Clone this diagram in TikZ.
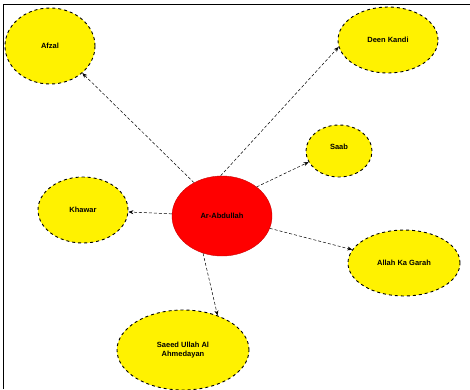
\documentclass[tikz,border=0pt]{standalone}
\usepackage{fontspec}
\setmainfont{Liberation Sans}
\usetikzlibrary{shapes.geometric,arrows.meta}
\begin{document}
\begin{tikzpicture}[x=1pt,y=-1pt,
  leaf/.style={ellipse,draw=black,dashed,line width=0.9pt,fill=yellow,
    inner sep=0pt,font=\fontsize{7.5}{8.5}\selectfont\bfseries,align=center},
  hub/.style={ellipse,draw=red!80!black,fill=red,inner sep=0pt,
    font=\fontsize{7.5}{8.5}\selectfont\bfseries},
  link/.style={densely dashed,line width=0.5pt,-{Stealth[length=5pt,width=4pt]}}]
\useasboundingbox (0,0) rectangle (470,389);
\fill[white] (0,0) rectangle (470,389);
% frame
\draw[line width=0.8pt] (3,389) -- (3,4) -- (470,4);
% nodes
\node[hub, minimum width=100pt, minimum height=80pt] (c) at (222,216) {Ar-Abdullah};
\node[leaf, minimum width=90pt, minimum height=76pt] (a) at (50,46) {Afzal};
\node[leaf, minimum width=100pt, minimum height=66pt] (d) at (388,40) {Deen Kandi};
\node[leaf, minimum width=66pt, minimum height=52pt] (s) at (339,151) {Saab\\[-1pt]{}};
\node[leaf, minimum width=90pt, minimum height=66pt] (k) at (83,210) {Khawar};
\node[leaf, minimum width=112pt, minimum height=66pt] (g) at (404,263) {Allah Ka Garah};
\node[leaf, minimum width=132pt, minimum height=80pt] (e) at (183,350) {Saeed Ullah Al\\Ahmedayan};
% connectors
\draw[link] (c.130) -- (a.-40);
\draw[link] (c.92) -- (d.188);
\draw[link] (c.40) -- (s.200);
\draw[link] (c) -- (k);
\draw[link] (c) -- (g);
\draw[link] (c.243) -- (e.45);
\end{tikzpicture}
\end{document}
